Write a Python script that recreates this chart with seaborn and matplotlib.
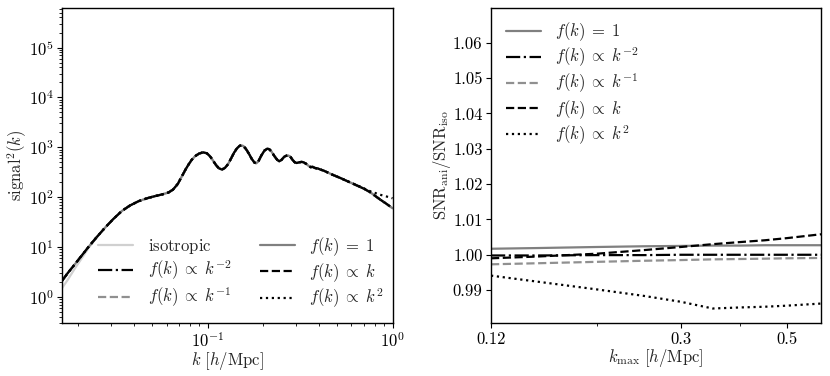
import numpy as np
import pandas as pd
import matplotlib
matplotlib.use("Agg")
import matplotlib.pyplot as plt
import seaborn as sns
from matplotlib.ticker import FixedLocator, FixedFormatter, NullFormatter, LogLocator

# ---------------- data: left panel ----------------
k_vals = [0.0163, 0.0175, 0.0192, 0.0210, 0.0227, 0.0250, 0.0279, 0.0310, 0.0344, 0.0380,
          0.0423, 0.0470, 0.0520, 0.0570, 0.0614, 0.0650, 0.0690, 0.0726, 0.0760, 0.0788,
          0.0820, 0.0856, 0.0900, 0.0945, 0.0990, 0.1030, 0.1070, 0.1110, 0.1150, 0.1195,
          0.1240, 0.1290, 0.1340, 0.1390, 0.1440, 0.1490, 0.1520, 0.1560, 0.1610, 0.1670,
          0.1730, 0.1790, 0.1830, 0.1880, 0.1950, 0.2030, 0.2100, 0.2150, 0.2210, 0.2300,
          0.2380, 0.2440, 0.2510, 0.2600, 0.2700, 0.2790, 0.2880, 0.2960, 0.3030, 0.3130,
          0.3230, 0.3300, 0.3400, 0.3500, 0.3600, 0.3700, 0.3800, 0.3950, 0.4100, 0.4230,
          0.4400, 0.4700, 0.5200, 0.5800, 0.6410, 0.7000, 0.7560, 0.8560, 0.9300, 1.0000]

signal_aniso = [2.1, 3.0, 4.6, 7.0, 10.1, 15.5, 24.6, 37, 53, 68,
                83, 95, 105, 114, 124, 142, 185, 263, 360, 450,
                560, 665, 750, 790, 760, 660, 540, 440, 380, 358,
                385, 460, 600, 780, 950, 1070, 1090, 1060, 930, 750,
                590, 495, 478, 520, 680, 860, 935, 920, 830, 660,
                560, 524, 560, 650, 690, 660, 560, 500, 484, 500,
                510, 500, 470, 430, 400, 405, 385, 375, 355, 342,
                320, 285, 244, 203, 172, 148, 126, 90, 73, 60]

signal_iso = [1.5, 2.2, 3.8, 6.2, 9.6, 15.2, 24.4, 37, 53, 68,
              83, 95, 105, 114, 124, 142, 185, 263, 360, 450,
              560, 665, 750, 790, 760, 660, 540, 440, 380, 358,
              385, 460, 600, 780, 950, 1070, 1090, 1060, 930, 750,
              590, 495, 478, 520, 680, 860, 935, 920, 830, 660,
              560, 524, 560, 650, 690, 660, 560, 500, 484, 500,
              510, 500, 470, 430, 400, 405, 385, 375, 355, 342,
              320, 285, 244, 203, 172, 148, 126, 90, 73, 60]

signal_k2 = [2.1, 3.0, 4.6, 7.0, 10.1, 15.5, 24.6, 37, 53, 68,
             83, 95, 105, 114, 124, 142, 185, 263, 360, 450,
             560, 665, 750, 790, 760, 660, 540, 440, 380, 358,
             385, 460, 600, 780, 950, 1070, 1090, 1060, 930, 750,
             590, 495, 478, 520, 680, 860, 935, 920, 830, 660,
             560, 524, 560, 650, 690, 660, 560, 500, 484, 500,
             510, 500, 470, 430, 400, 405, 385, 375, 355, 342,
             320, 285, 244, 204, 174, 150, 132, 112, 103, 95]

# ---------------- data: right panel ----------------
kmax = [0.12, 0.15, 0.20, 0.25, 0.30, 0.35, 0.40, 0.45, 0.50, 0.59]
ratio_f1 = [1.0017, 1.0019, 1.0022, 1.0024, 1.0025, 1.0026, 1.0026, 1.0027, 1.0027, 1.0027]
ratio_km2 = [0.9998, 0.9998, 0.9999, 0.9999, 1.0000, 1.0000, 1.0000, 1.0000, 1.0000, 1.0000]
ratio_km1 = [0.9973, 0.9976, 0.9980, 0.9983, 0.9985, 0.9987, 0.9988, 0.9989, 0.9990, 0.9991]
ratio_k1 = [0.9990, 0.9995, 1.0003, 1.0013, 1.0022, 1.0030, 1.0036, 1.0041, 1.0047, 1.0058]
ratio_k2 = [0.9941, 0.9924, 0.9902, 0.9884, 0.9867, 0.9848, 0.9851, 0.9853, 0.9856, 0.9862]

right_xticks = [0.12, 0.3, 0.5]
right_xticklabels = ["0.12", "0.3", "0.5"]
right_xminor = [0.2, 0.4]
right_yticks = [0.99, 1.00, 1.01, 1.02, 1.03, 1.04, 1.05, 1.06]

lab_iso = r"$\mathrm{isotropic}$"
lab_f1 = r"$f(k)\;=\;1$"
lab_km2 = r"$f(k)\;\propto\;k^{-2}$"
lab_km1 = r"$f(k)\;\propto\;k^{-1}$"
lab_k1 = r"$f(k)\;\propto\;k$"
lab_k2 = r"$f(k)\;\propto\;k^{2}$"

# ---------------- style ----------------
sns.set_style("ticks")
plt.rcParams["font.family"] = ["cmr10", "DejaVu Serif"]
plt.rcParams["mathtext.fontset"] = "cm"
plt.rcParams["axes.formatter.use_mathtext"] = True
plt.rcParams["axes.unicode_minus"] = False
plt.rcParams["axes.edgecolor"] = "black"
plt.rcParams["axes.linewidth"] = 1.0
plt.rcParams["xtick.color"] = "black"
plt.rcParams["ytick.color"] = "black"

C_ISO = "#d0d0d0"
C_F1 = "#808080"
C_KM1 = "#909090"
LW = 1.6

fig = plt.figure(figsize=(8.3, 3.76), dpi=100)
axL = fig.add_axes([62 / 830, 53 / 376, 330.5 / 830, 315 / 376])
axR = fig.add_axes([491 / 830, 53 / 376, 330 / 830, 315 / 376])

# ---------------- left panel ----------------
axL.set_xscale("log")
axL.set_yscale("log")

def draw(ax, x, y, color, ls, label):
    sns.lineplot(x=x, y=y, ax=ax, color=color, linestyle=ls, lw=LW,
                 sort=False, estimator=None, legend=False)
    line = ax.lines[-1]
    line.set_label(label)
    return line

hL = {}
hL["iso"] = draw(axL, k_vals, signal_iso, C_ISO, "-", lab_iso)
hL["f1"] = draw(axL, k_vals, signal_aniso, C_F1, "-", lab_f1)
hL["km2"] = draw(axL, k_vals, signal_aniso, "black", "-.", lab_km2)
hL["km1"] = draw(axL, k_vals, signal_aniso, C_KM1, "--", lab_km1)
hL["k1"] = draw(axL, k_vals, signal_aniso, "black", "--", lab_k1)
hL["k2"] = draw(axL, k_vals, signal_k2, "black", ":", lab_k2)

axL.set_xlim(0.0163, 1.0)
axL.set_ylim(0.3, 6.2e5)
axL.yaxis.set_major_locator(LogLocator(base=10, numticks=12))
axL.yaxis.set_minor_locator(LogLocator(base=10, subs=np.arange(2, 10), numticks=12))
axL.yaxis.set_minor_formatter(NullFormatter())
axL.xaxis.set_minor_formatter(NullFormatter())
axL.tick_params(axis="both", which="major", labelsize=12, length=3.5, pad=2.5)
axL.tick_params(axis="both", which="minor", length=2)
axL.set_xlabel(r"$k\ [h/\mathrm{Mpc}]$", fontsize=12, labelpad=0)
axL.set_ylabel(r"$\mathrm{signal}^2(k)$", fontsize=12, labelpad=0)

order = ["iso", "km2", "km1", "f1", "k1", "k2"]
axL.legend([hL[o] for o in order], [hL[o].get_label() for o in order],
           ncol=2, frameon=False, fontsize=12, handlelength=2.1,
           handletextpad=0.85, columnspacing=1.7, labelspacing=0.2,
           borderpad=0.0, borderaxespad=0.0,
           loc="lower left", bbox_to_anchor=(0.11, 0.04))

# ---------------- right panel ----------------
axR.set_xscale("log")
draw(axR, kmax, ratio_f1, C_F1, "-", lab_f1)
draw(axR, kmax, ratio_km2, "black", "-.", lab_km2)
draw(axR, kmax, ratio_km1, C_KM1, "--", lab_km1)
draw(axR, kmax, ratio_k1, "black", "--", lab_k1)
draw(axR, kmax, ratio_k2, "black", ":", lab_k2)

axR.set_xlim(0.12, 0.59)
axR.set_ylim(0.9807, 1.0698)
axR.xaxis.set_major_locator(FixedLocator(right_xticks))
axR.xaxis.set_major_formatter(FixedFormatter(right_xticklabels))
axR.xaxis.set_minor_locator(FixedLocator(right_xminor))
axR.xaxis.set_minor_formatter(NullFormatter())
axR.yaxis.set_major_locator(FixedLocator(right_yticks))
axR.yaxis.set_major_formatter(FixedFormatter([f"{v:.2f}" for v in right_yticks]))
axR.tick_params(axis="both", which="major", labelsize=12, length=3.5, pad=2.5)
axR.tick_params(axis="both", which="minor", length=2)
axR.set_xlabel(r"$k_\mathrm{max}\ [h/\mathrm{Mpc}]$", fontsize=12, labelpad=0)
axR.set_ylabel(r"$\mathrm{SNR}_\mathrm{ani}/\mathrm{SNR}_\mathrm{iso}$", fontsize=12, labelpad=0)
axR.legend(frameon=False, fontsize=12, handlelength=2.1, handletextpad=0.85,
           labelspacing=0.15, borderpad=0.0, borderaxespad=0.0,
           loc="upper left", bbox_to_anchor=(0.045, 0.96))

fig.savefig("out.png", dpi=100)
